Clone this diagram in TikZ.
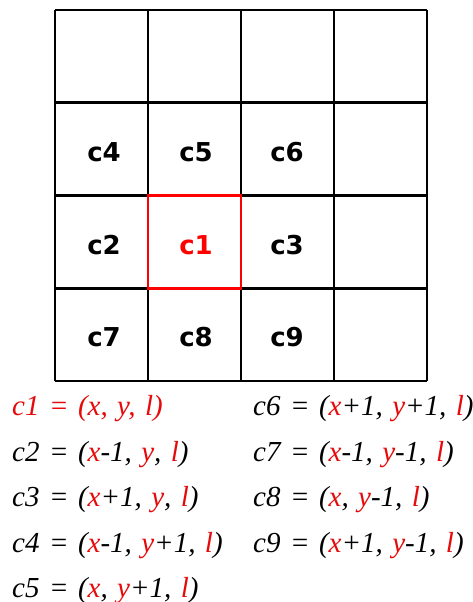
\documentclass[tikz,border=0pt]{standalone}
\usepackage{fontspec}
\setmainfont{Liberation Serif}
\newfontfamily\dejavu{DejaVu Sans}
\newfontfamily\eqfont{Liberation Serif}[WordSpace=1.3]
\definecolor{cred}{RGB}{230,10,10}
\definecolor{gred}{RGB}{255,0,0}
\tikzset{
  gridline/.style={line width=2.7pt, black},
  cell/.style={font=\dejavu\bfseries\fontsize{26}{26}\selectfont, anchor=center, inner sep=0pt},
  eq/.style={font=\eqfont\itshape\fontsize{29}{29}\selectfont, anchor=base west, inner sep=0pt},
}
\newcommand{\rd}[1]{\textcolor{cred}{#1}}
\begin{document}
\begin{tikzpicture}[x=1pt,y=-1pt]
\useasboundingbox (0,0) rectangle (473,602);
% grid
\foreach \i in {0,...,4} {
  \draw[gridline] (55+93*\i,10) -- (55+93*\i,381);
  \draw[gridline] (55,10+92.75*\i) -- (427,10+92.75*\i);
}
\draw[line width=2.7pt, gred] (148,195.5) rectangle (241,288.25);
% cell labels
\node[cell] (c4) at (104,152) {c4};
\node[cell] (c5) at (196,152) {c5};
\node[cell] (c6) at (287,152) {c6};
\node[cell] (c2) at (104,245) {c2};
\node[cell, text=gred] (c1) at (196,245) {c1};
\node[cell] (c3) at (287,245) {c3};
\node[cell] (c7) at (104,337) {c7};
\node[cell] (c8) at (196,337) {c8};
\node[cell] (c9) at (287,337) {c9};
% equations
\node[eq, text=cred] (e1) at (12,415) {c1 = (x, y, l)};
\node[eq] (e2) at (12,461) {c2 = (\rd{x}-1, \rd{y}, \rd{l})};
\node[eq] (e3) at (12,506) {c3 = (\rd{x}+1, \rd{y}, \rd{l})};
\node[eq] (e4) at (12,552) {c4 = (\rd{x}-1, \rd{y}+1, \rd{l})};
\node[eq] (e5) at (12,597) {c5 = (\rd{x}, \rd{y}+1, \rd{l})};
\node[eq] (e6) at (253,415) {c6 = (\rd{x}+1, \rd{y}+1, \rd{l})};
\node[eq] (e7) at (253,461) {c7 = (\rd{x}-1, \rd{y}-1, \rd{l})};
\node[eq] (e8) at (253,506) {c8 = (\rd{x}, \rd{y}-1, \rd{l})};
\node[eq] (e9) at (253,552) {c9 = (\rd{x}+1, \rd{y}-1, \rd{l})};
\end{tikzpicture}
\end{document}
